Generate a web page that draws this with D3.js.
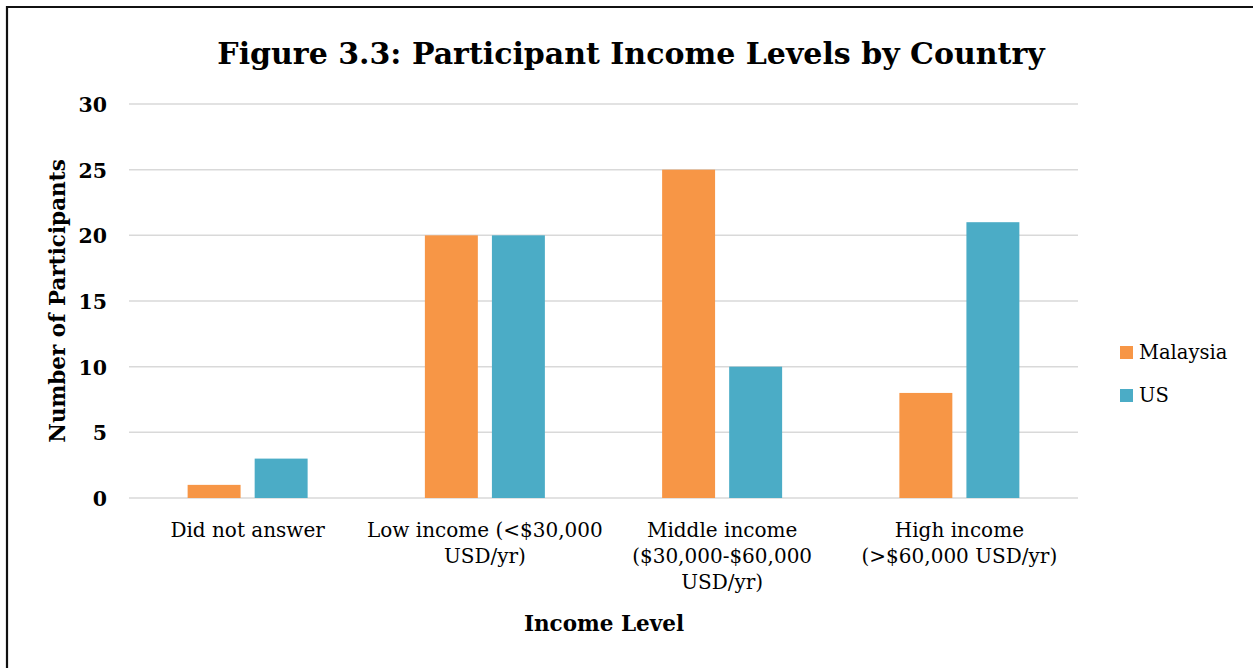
<!DOCTYPE html>
<html>
<head>
<meta charset="utf-8">
<script src="https://cdn.jsdelivr.net/npm/d3@7"></script>
<style>
  html, body { margin: 0; padding: 0; background: #fff; }
  svg { display: block; }
  text { font-family: "DejaVu Serif", "Liberation Serif", serif; fill: #000; }
</style>
</head>
<body>
<svg id="chart" width="1253" height="668"></svg>
<script>
// Income categories (each line of the wrapped axis label)
const categories = ["Did not answer", "Low income", "Middle income", "High income"];
const categoryLabels = [
  ["Did not answer"],
  ["Low income (<$30,000", "USD/yr)"],
  ["Middle income", "($30,000-$60,000", "USD/yr)"],
  ["High income", "(>$60,000 USD/yr)"]
];
const seriesNames = ["Malaysia", "US"];
const malaysia = [1, 20, 25, 8];
const us = [3, 20, 10, 21];
const yTicks = [0, 5, 10, 15, 20, 25, 30];
const colors = ["#F79646", "#4BACC6"];

const svg = d3.select("#chart");

// frame around the figure
svg.append("path")
  .attr("d", "M7,700 V7 H1260")
  .attr("fill", "none")
  .attr("stroke", "#111")
  .attr("stroke-width", 2.2);

const plot = { left: 129, right: 1078, top: 104, bottom: 498 };

const x = d3.scaleBand().domain(categories).range([plot.left, plot.right]);
const y = d3.scaleLinear().domain([0, 30]).range([plot.bottom, plot.top]);
const inner = d3.scaleBand().domain(seriesNames)
  .range([x.bandwidth() / 2 - 60, x.bandwidth() / 2 + 60])
  .paddingInner(0.21);

// gridlines
svg.append("g")
  .selectAll("line")
  .data(yTicks)
  .join("line")
  .attr("x1", plot.left).attr("x2", plot.right)
  .attr("y1", d => y(d)).attr("y2", d => y(d))
  .attr("stroke", "#D9D9D9").attr("stroke-width", 1.5);

// y axis labels
const yAxis = d3.axisLeft(y).tickValues(yTicks).tickSize(0).tickPadding(0);
const yg = svg.append("g").attr("transform", `translate(107,0)`).call(yAxis);
yg.select(".domain").remove();
yg.selectAll("text")
  .attr("font-family", "DejaVu Serif, serif")
  .attr("font-size", 20.5).attr("font-weight", "bold").attr("fill", "#000")
  .attr("dy", "0.36em");

// bars
const seriesData = [malaysia, us];
seriesNames.forEach((name, si) => {
  svg.append("g")
    .selectAll("rect")
    .data(categories.map((c, i) => ({ c, v: seriesData[si][i] })))
    .join("rect")
    .attr("x", d => x(d.c) + inner(name))
    .attr("width", inner.bandwidth())
    .attr("y", d => y(d.v))
    .attr("height", d => y(0) - y(d.v))
    .attr("fill", colors[si]);
});

// category labels
const xl = svg.append("g");
categories.forEach((c, i) => {
  const t = xl.append("text")
    .attr("text-anchor", "middle")
    .attr("font-size", 20);
  categoryLabels[i].forEach((line, li) => {
    t.append("tspan")
      .attr("x", x(c) + x.bandwidth() / 2)
      .attr("y", 537 + li * 26)
      .text(line);
  });
});

// title
svg.append("text")
  .attr("x", 631).attr("y", 64)
  .attr("text-anchor", "middle")
  .attr("font-size", 30).attr("font-weight", "bold")
  .text("Figure 3.3: Participant Income Levels by Country");

// axis titles
svg.append("text")
  .attr("x", 604).attr("y", 631)
  .attr("text-anchor", "middle")
  .attr("font-size", 21.5).attr("font-weight", "bold")
  .text("Income Level");

svg.append("text")
  .attr("transform", "translate(65,301) rotate(-90)")
  .attr("text-anchor", "middle")
  .attr("font-size", 21.5).attr("font-weight", "bold")
  .text("Number of Participants");

// legend
const legend = svg.append("g");
seriesNames.forEach((name, i) => {
  const gy = 346 + i * 43;
  legend.append("rect")
    .attr("x", 1120).attr("y", gy)
    .attr("width", 13).attr("height", 13)
    .attr("fill", colors[i]);
  legend.append("text")
    .attr("x", 1139).attr("y", gy + 13)
    .attr("font-size", 19.5)
    .text(name);
});
</script>
</body>
</html>
